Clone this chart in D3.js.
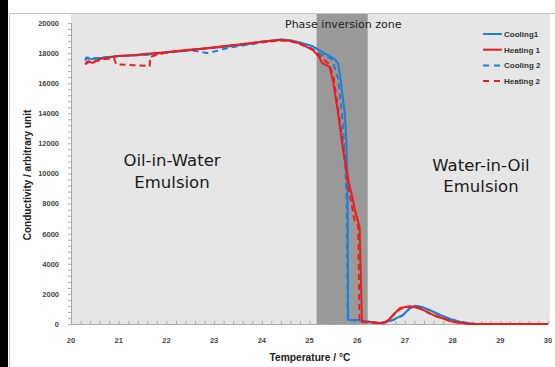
<!DOCTYPE html>
<html><head><meta charset="utf-8">
<script src="https://cdn.jsdelivr.net/npm/d3@7"></script>
<style>body{margin:0;background:#fff}svg{display:block}</style>
</head><body>
<svg id="c" width="555" height="367"></svg>
<script>
// ---- data ----
const xTicks = [20,21,22,23,24,25,26,27,28,29,30];
const yTicks = [0,2000,4000,6000,8000,10000,12000,14000,16000,18000,20000];
const phaseZone = [25.15, 26.22];
const seriesNames = ["Cooling1","Heating 1","Cooling 2","Heating 2"];

const cool1T = [20.3,20.45,20.7,21.0,21.3,21.6,22.0,22.4,22.8,23.2,23.6,24.0,24.4,24.6,24.8,25.07,25.28,25.53,25.6,25.65,25.7,25.74,25.77,25.79,25.8,25.81,26.0,26.2,26.45,26.6,26.75,26.96,27.1,27.21,27.38,27.55,27.74,27.95,28.15,28.35,28.51,29.0,29.5,30.0];
const cool1V = [17650,17600,17700,17800,17850,17900,18050,18150,18300,18400,18550,18750,18900,18850,18700,18450,18050,17600,17300,16300,15000,14000,12300,10200,7500,270,260,180,60,130,280,600,1050,1220,1110,880,600,330,150,50,0,0,0,0];

const heat1T = [20.3,20.35,20.45,20.6,20.8,21.0,21.3,21.6,22.0,22.4,22.8,23.2,23.6,24.0,24.4,24.6,24.8,25.07,25.2,25.26,25.35,25.42,25.49,25.6,25.7,25.78,25.83,25.9,25.95,26.05,26.1,26.3,26.54,26.65,26.75,26.9,27.1,27.32,27.59,28.0,28.36,29.0,30.0];
const heat1V = [17300,17450,17350,17600,17700,17800,17850,17950,18050,18200,18300,18450,18600,18750,18880,18800,18650,18200,17750,17350,17200,17100,16200,14000,11600,10200,9300,8400,7600,6450,130,100,50,250,600,1060,1180,1040,600,150,0,0,0];

const cool2T = [20.3,20.32,20.5,20.8,21.0,21.4,21.8,22.2,22.5,22.85,23.0,23.3,23.6,24.0,24.4,24.6,24.8,25.0,25.22,25.35,25.45,25.5,25.6,25.68,25.74,25.78,25.8,26.0,26.2,26.45,26.6,26.75,26.96,27.1,27.21,27.38,27.55,27.74,27.95,28.15,28.35,28.51,29.0,30.0];
const cool2V = [17500,17700,17650,17750,17800,17850,17950,18100,18200,18000,18100,18350,18500,18700,18850,18800,18650,18400,17950,17750,17650,17300,16300,14000,11500,8000,260,240,170,60,120,260,580,1020,1200,1100,860,590,320,140,40,0,0,0];

const heat2T = [20.3,20.4,20.5,20.7,20.9,20.95,21.3,21.65,21.66,22.0,22.4,22.8,23.2,23.6,24.0,24.4,24.6,24.8,25.07,25.25,25.4,25.5,25.6,25.7,25.8,25.88,25.95,26.02,26.05,26.3,26.54,26.65,26.75,26.9,27.1,27.32,27.59,28.0,28.36,29.0,30.0];
const heat2V = [17250,17500,17450,17600,17650,17250,17200,17150,17750,18050,18150,18300,18450,18600,18750,18850,18800,18600,18250,17700,17300,16500,14300,12000,9300,8000,6800,6500,200,100,50,230,560,1000,1150,1020,580,140,0,0,0];

// ---- drawing ----
const svg = d3.select("#c");
const x = d3.scaleLinear().domain([20,30]).range([71,548]);
const y = d3.scaleLinear().domain([0,20000]).range([324,23]);

// frame
svg.append("rect").attr("x",0).attr("y",0).attr("width",8).attr("height",367).attr("fill","#000");
svg.append("path").attr("d","M9.5,367V13.5H555").attr("fill","none").attr("stroke","#c4c4c4");

// plot background
svg.append("rect").attr("x",x(20)).attr("y",14).attr("width",x(30)+2-x(20)).attr("height",y(0)-14).attr("fill","#e6e6e6");
// phase zone
svg.append("rect").attr("x",x(phaseZone[0])).attr("y",14).attr("width",x(phaseZone[1])-x(phaseZone[0])).attr("height",y(0)-14).attr("fill","#999");

// axes
const gx = svg.append("g").attr("transform",`translate(0,${y(0)})`)
  .call(d3.axisBottom(x).tickValues(d3.range(20,30.001,0.2)).tickSize(-3).tickFormat(""));
gx.select(".domain").attr("stroke","#aaa");
gx.selectAll(".tick line").attr("stroke","#aaa");
const gy = svg.append("g").attr("transform",`translate(${x(20)},0)`)
  .call(d3.axisLeft(y).tickValues(d3.range(0,20001,400)).tickSize(3).tickFormat(""));
gy.select(".domain").attr("stroke","#aaa");
gy.selectAll(".tick line").attr("stroke","#aaa");

svg.append("g").selectAll("text").data(xTicks).join("text")
  .attr("x",d=>x(d)).attr("y",343).attr("text-anchor","middle")
  .attr("font-family","Liberation Sans").attr("font-weight","bold").attr("font-size",7.5).attr("fill","#444")
  .text(d=>d);
svg.append("g").selectAll("text").data(yTicks).join("text")
  .attr("x",59).attr("y",d=>y(d)+2.8).attr("text-anchor","end")
  .attr("font-family","Liberation Sans").attr("font-weight","bold").attr("font-size",7.5).attr("fill","#444")
  .text(d=>d);

// axis titles
svg.append("text").attr("x",310).attr("y",361).attr("text-anchor","middle")
  .attr("font-family","Liberation Sans").attr("font-weight","bold").attr("font-size",10.2).attr("fill","#222")
  .text("Temperature / °C");
svg.append("text").attr("transform","translate(31,175) rotate(-90)").attr("text-anchor","middle")
  .attr("font-family","Liberation Sans").attr("font-weight","bold").attr("font-size",10).attr("fill","#222")
  .text("Conductivity / arbitrary unit");

// annotations
svg.append("text").attr("x",285).attr("y",28).attr("font-family","DejaVu Sans").attr("font-size",11).attr("fill","#222").text("Phase inversion zone");
const ann = svg.append("g").attr("font-family","DejaVu Sans").attr("font-size",16.5).attr("fill","#1a1a1a").attr("text-anchor","middle");
ann.append("text").attr("x",172).attr("y",166).text("Oil-in-Water");
ann.append("text").attr("x",172).attr("y",188).text("Emulsion");
ann.append("text").attr("x",481).attr("y",171).text("Water-in-Oil");
ann.append("text").attr("x",481).attr("y",192).text("Emulsion");

// series
const blue = "#1f7fd1", red = "#ee1c1c";
const series = [
  {name:seriesNames[0], t:cool1T, v:cool1V, color:blue, dash:null},
  {name:seriesNames[2], t:cool2T, v:cool2V, color:blue, dash:"6,4"},
  {name:seriesNames[1], t:heat1T, v:heat1V, color:red, dash:null},
  {name:seriesNames[3], t:heat2T, v:heat2V, color:red, dash:"6,4"}
];
const line = d3.line().x(d=>x(d[0])).y(d=>y(d[1]));
series.forEach(s=>{
  svg.append("path").datum(s.t.map((t,i)=>[t,s.v[i]]))
    .attr("d",line).attr("fill","none").attr("stroke",s.color).attr("stroke-width",2)
    .attr("stroke-linejoin","round").attr("stroke-dasharray",s.dash);
});

// legend
const legOrder = [series[0],series[2],series[1],series[3]];
const lg = svg.append("g");
legOrder.forEach((s,i)=>{
  const yy = 34 + i*15.7;
  lg.append("line").attr("x1",483).attr("x2",502).attr("y1",yy).attr("y2",yy)
    .attr("stroke",s.color).attr("stroke-width",2).attr("stroke-dasharray",s.dash ? "6,5" : null);
  lg.append("text").attr("x",504).attr("y",yy+2.8).attr("font-family","Liberation Sans").attr("font-weight","bold")
    .attr("font-size",8).attr("fill","#333").text(s.name);
});
</script>
</body></html>
